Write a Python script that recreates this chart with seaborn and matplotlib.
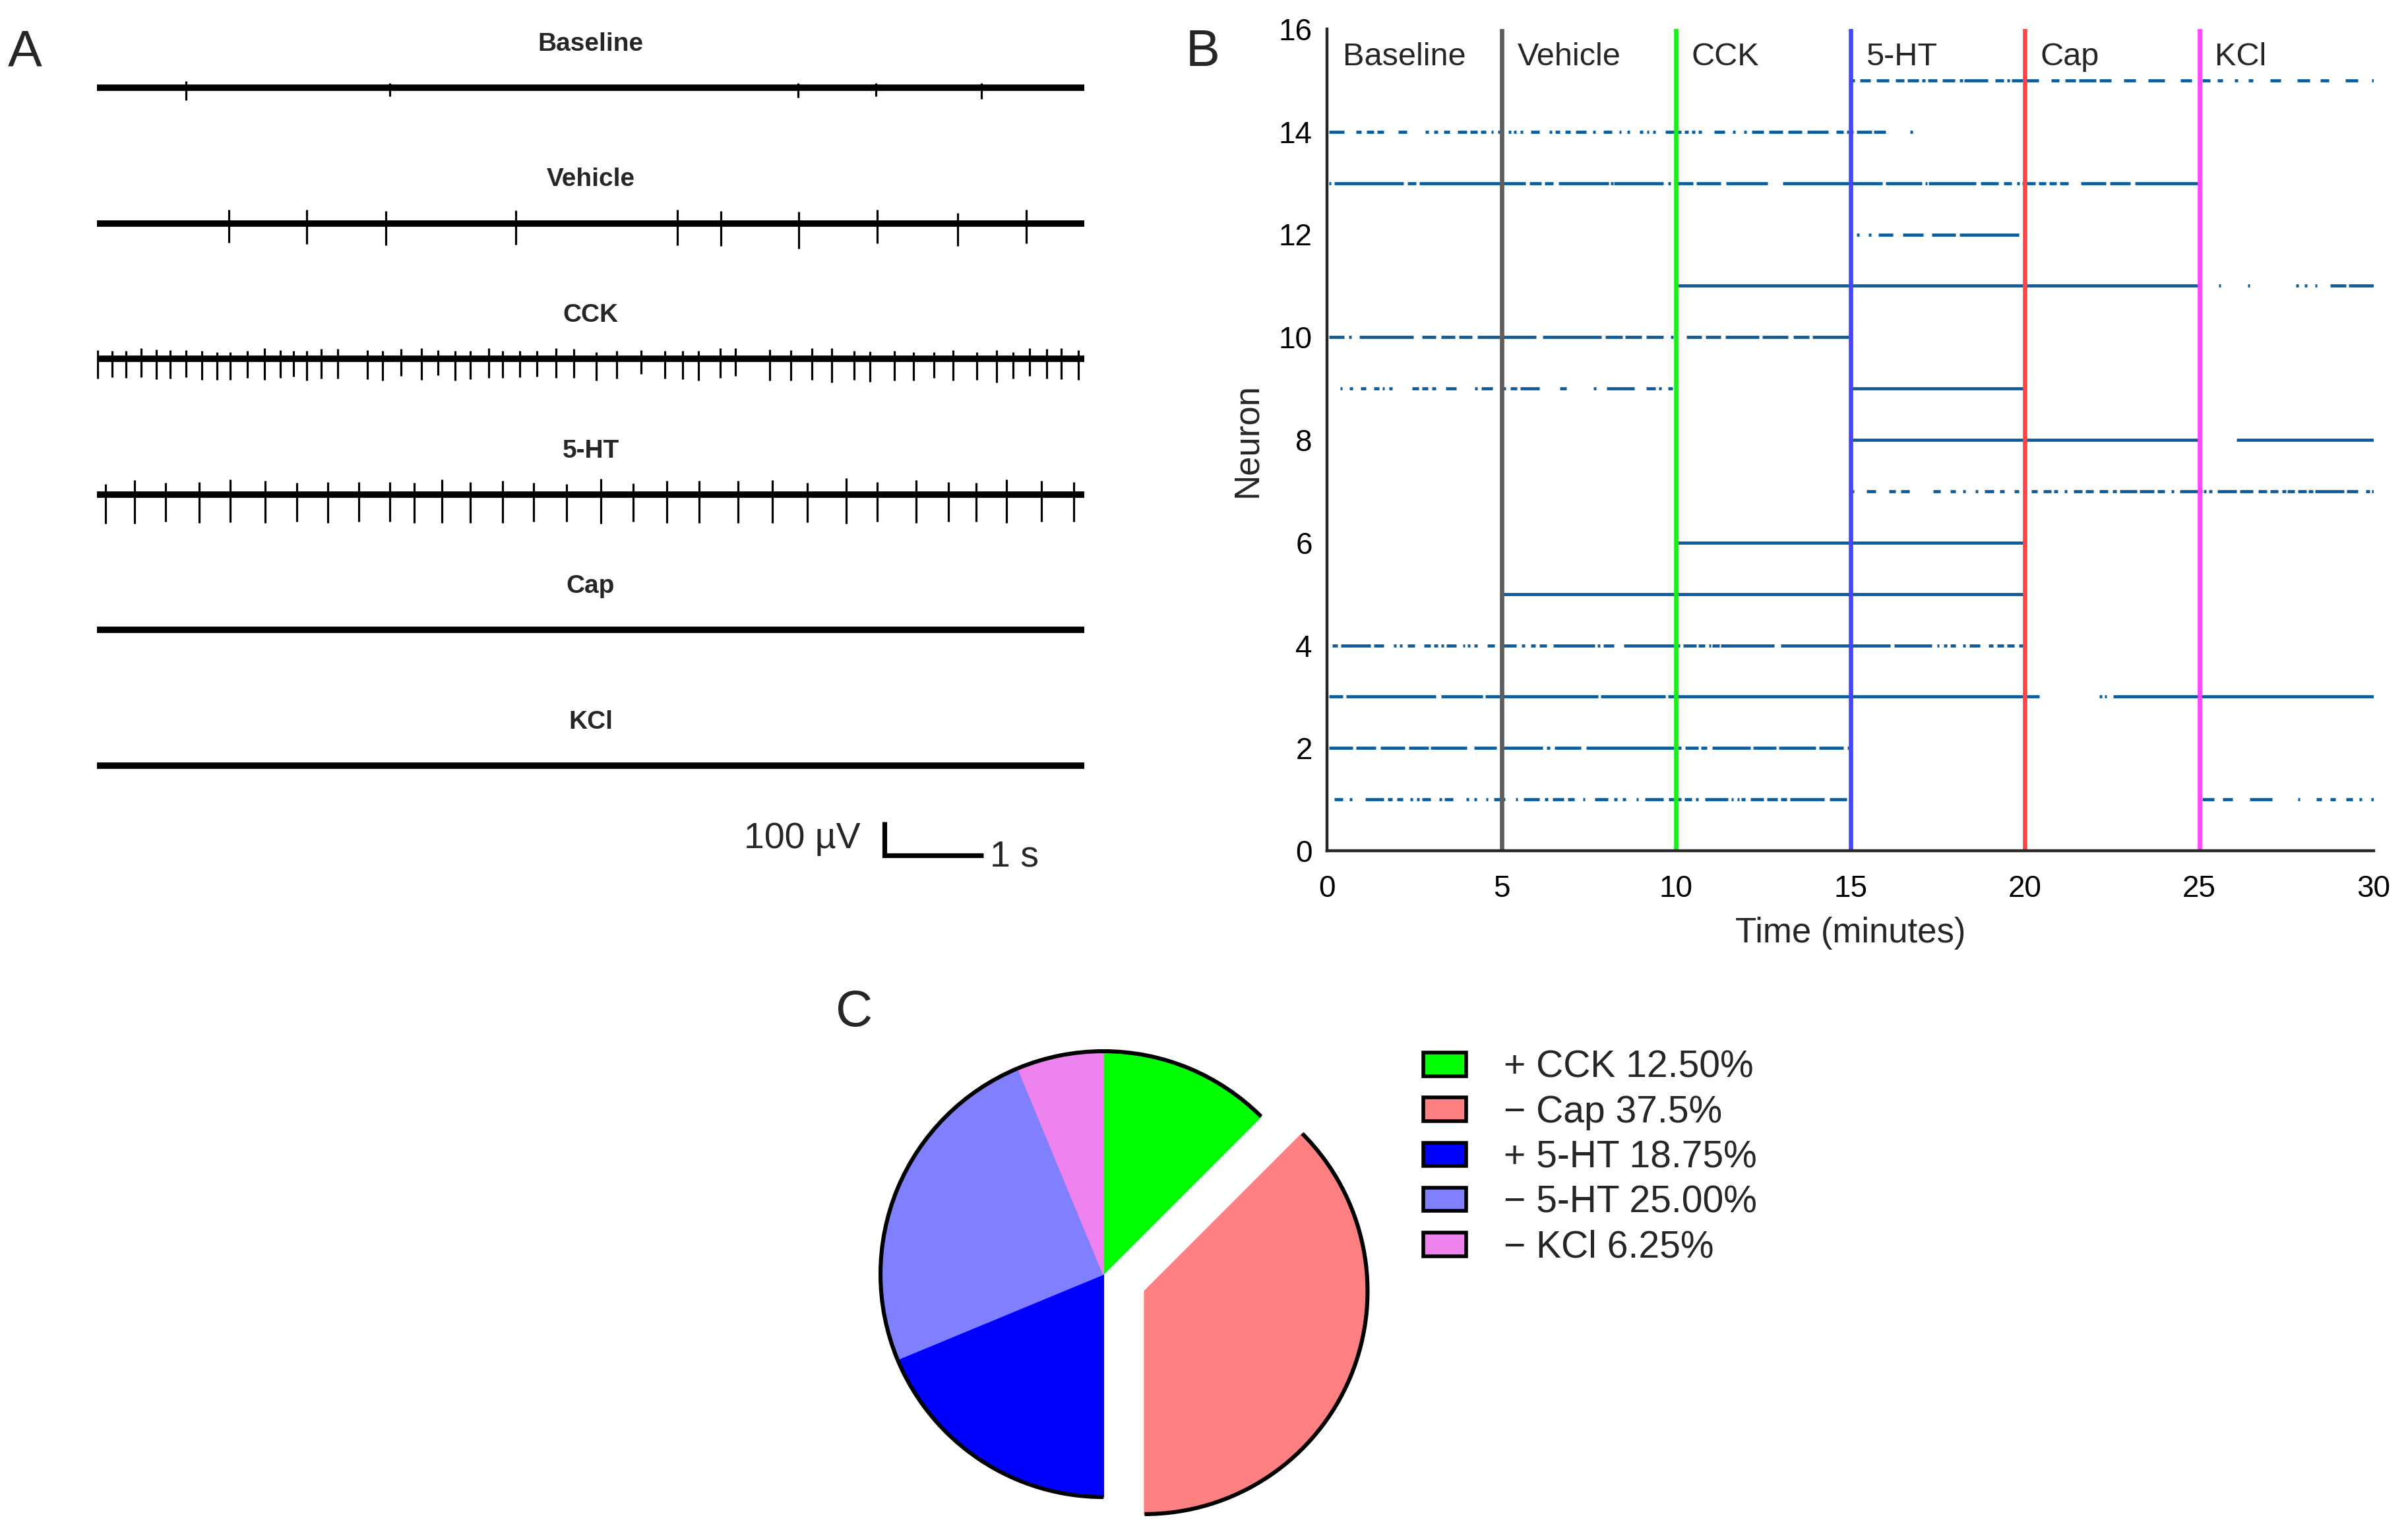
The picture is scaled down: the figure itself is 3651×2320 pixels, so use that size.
import numpy as np
import matplotlib
matplotlib.use("Agg")
import matplotlib.pyplot as plt
from matplotlib.patches import Arc, Patch
import seaborn as sns

# ---------------- Panel A : example traces (10 s each) ----------------
trace_labels = ["Baseline", "Vehicle", "CCK", "5-HT", "Cap", "KCl"]

baseline_spikes = [0.903, 2.966, 7.10, 7.89, 8.955]
baseline_up = [20, 14, 14, 14, 14]
baseline_down = [38, 25, 29, 26, 34]

vehicle_spikes = [1.337, 2.126, 2.923, 4.241, 5.877, 6.32, 7.108, 7.903, 8.716, 9.411]
vehicle_up = [40, 40, 36, 38, 41, 36, 34, 40, 31, 40]
vehicle_down = [57, 61, 65, 63, 65, 68, 76, 60, 68, 60]

cck_spikes = [0.005, 0.154, 0.293, 0.449, 0.600, 0.740, 0.900, 1.060, 1.215, 1.352,
              1.524, 1.700, 1.860, 1.993, 2.122, 2.272, 2.440, 2.738, 2.890, 3.080,
              3.285, 3.456, 3.624, 3.780, 3.968, 4.110, 4.282, 4.454, 4.652, 4.830,
              5.060, 5.266, 5.508, 5.751, 5.929, 6.091, 6.314, 6.466, 6.813, 7.030,
              7.240, 7.440, 7.667, 7.830, 8.078, 8.273, 8.476, 8.674, 8.913, 9.110,
              9.279, 9.447, 9.619, 9.764, 9.939]
cck_up = [26, 24, 24, 31, 28, 26, 26, 23, 20, 21, 23, 31, 26, 23, 24, 29, 29, 26, 24, 29,
          31, 26, 24, 23, 31, 24, 24, 24, 32, 29,
          21, 24, 26, 24, 23, 24, 31, 31, 28, 25, 31, 31, 23, 22, 23, 20, 21, 26, 21, 25,
          20, 31, 29, 31, 25]
cck_down = [59, 54, 57, 54, 61, 59, 54, 62, 63, 63, 57, 63, 56, 52, 65, 59, 59, 61, 65, 50,
            63, 49, 65, 61, 57, 57, 54, 52, 56, 56,
            65, 59, 44, 59, 61, 65, 56, 50, 64, 65, 63, 70, 63, 69, 64, 65, 56, 65, 63, 71,
            59, 51, 59, 61, 63]

ht_spikes = [0.084, 0.381, 0.693, 1.033, 1.351, 1.706, 2.025, 2.336, 2.655, 2.966,
             3.212, 3.495, 3.778, 4.110, 4.422, 4.755, 5.102, 5.428, 5.769, 6.102,
             6.493, 6.841, 7.195, 7.586, 7.905, 8.296, 8.622, 8.905, 9.215, 9.563, 9.896]
ht_up = [31, 42, 34, 37, 45, 40, 34, 37, 36, 36, 34, 44, 37, 40, 34, 31, 47, 33, 40, 40,
         40, 42, 35, 48, 37, 42, 37, 34, 45, 40, 36]
ht_down = [87, 87, 80, 84, 82, 84, 80, 85, 80, 80, 84, 85, 84, 84, 80, 80, 87, 80, 84, 84,
           85, 84, 82, 87, 80, 84, 80, 80, 84, 80, 80]

cap_spikes, cap_up, cap_down = [], [], []
kcl_spikes, kcl_up, kcl_down = [], [], []

# ---------------- Panel B : raster, intervals of firing (minutes) ----------------
epoch_names = ["Baseline", "Vehicle", "CCK", "5-HT", "Cap", "KCl"]
epoch_starts = [0, 5, 10, 15, 20, 25]
epoch_colors = ["#5E5E5E", "#1EEB1E", "#4646FF", "#FF4646", "#FF46FF"]

n1 = [(0.2, 0.45), (0.64, 0.69), (1.09, 1.63), (1.73, 1.88), (2.01, 2.18), (2.38, 2.45),
      (2.57, 2.64), (2.72, 2.97), (3.22, 3.27), (3.37, 3.61), (3.99, 4.06), (4.21, 4.29),
      (4.55, 4.6), (4.78, 5.1), (5.4, 5.45), (5.64, 6.09), (6.24, 6.34), (6.47, 6.78),
      (6.9, 7.08), (7.33, 7.4), (7.67, 8.05), (8.22, 8.32), (8.47, 8.56), (8.86, 8.91),
      (9.11, 9.65), (9.8, 10.15), (10.25, 10.45), (10.56, 10.64), (10.84, 11.49),
      (11.58, 11.63), (11.75, 11.78), (11.88, 11.98), (12.13, 12.52), (12.6, 12.92),
      (13.0, 13.17), (13.27, 14.26), (14.41, 14.9),
      (25.08, 25.42), (25.67, 25.96), (26.45, 27.09), (27.82, 27.87), (28.36, 28.5),
      (28.75, 28.9), (29.2, 29.39), (29.59, 29.64), (29.93, 29.98)]
n2 = [(0.05, 0.74), (0.84, 1.39), (1.53, 2.23), (2.35, 2.92), (2.97, 4.01), (4.21, 4.85),
      (5.0, 6.19), (6.29, 6.39), (6.53, 7.28), (7.43, 10.0), (10.05, 10.15), (10.27, 10.64),
      (10.72, 10.89), (11.04, 12.13), (12.21, 12.87), (12.95, 14.01), (14.11, 14.8),
      (14.92, 14.97)]
n3 = [(0.05, 0.45), (0.54, 3.12), (3.27, 4.46), (4.53, 7.77), (7.85, 9.7), (9.77, 20.42),
      (22.14, 22.2), (22.28, 22.33), (22.53, 30.0)]
n4 = [(0.15, 0.3), (0.4, 1.24), (1.34, 1.63), (1.91, 1.95), (2.08, 2.11), (2.31, 2.52),
      (2.77, 2.97), (3.07, 3.17), (3.27, 3.32), (3.42, 3.71), (3.89, 3.93), (4.03, 4.07),
      (4.21, 4.31), (4.6, 4.8), (4.95, 5.42), (5.57, 5.67), (5.84, 5.97), (6.09, 6.29),
      (6.49, 7.67), (7.75, 7.82), (7.92, 8.22), (8.51, 10.0), (10.05, 10.1), (10.2, 10.59),
      (10.64, 10.84), (10.94, 10.99), (11.04, 11.24), (11.29, 12.82), (13.01, 16.15),
      (16.25, 17.33), (17.48, 17.53), (17.67, 17.77), (17.87, 18.02), (18.22, 18.26),
      (18.41, 18.71), (18.96, 19.1), (19.2, 19.39), (19.49, 19.69), (19.83, 20.0)]
n5 = [(5.0, 20.0)]
n6 = [(10.05, 20.0)]
n7 = [(15.03, 15.08), (15.47, 15.72), (16.11, 16.3), (16.45, 16.7), (17.38, 17.58),
      (17.87, 18.02), (18.22, 18.29), (18.59, 18.64), (18.85, 19.12), (19.29, 19.41),
      (19.69, 19.83), (20.18, 20.35), (20.52, 20.76), (20.84, 20.94), (21.14, 21.19),
      (21.4, 21.65), (21.73, 21.96), (22.14, 22.38), (22.51, 22.63), (22.73, 23.22),
      (23.29, 23.71), (23.8, 24.0), (24.2, 24.25), (24.44, 25.08), (25.13, 25.18),
      (25.27, 25.37), (25.52, 26.06), (26.16, 26.55), (26.7, 26.94), (27.04, 27.25),
      (27.38, 27.48), (27.53, 27.73), (27.82, 28.07), (28.12, 28.26), (28.31, 29.15),
      (29.22, 29.54), (29.78, 29.88), (29.95, 30.0)]
n8 = [(15.0, 24.98), (26.06, 30.0)]
n9 = [(0.37, 0.42), (0.64, 0.74), (0.96, 1.12), (1.34, 1.49), (1.58, 1.63), (1.78, 1.88),
      (2.43, 2.62), (2.72, 2.90), (3.0, 3.12), (3.4, 3.71), (4.24, 4.31), (4.43, 4.75),
      (5.05, 5.1), (5.25, 5.45), (5.54, 6.09), (6.68, 6.86), (7.64, 7.7), (8.02, 8.81),
      (9.14, 9.41), (9.51, 9.56), (9.77, 9.9), (15.0, 20.0)]
n10 = [(0.05, 0.5), (0.62, 0.69), (0.92, 2.48), (2.72, 3.12), (3.27, 3.66), (3.79, 4.16),
       (4.31, 4.95), (5.0, 5.99), (6.19, 7.87), (7.97, 8.47), (8.54, 9.01), (9.14, 9.65),
       (9.85, 9.9), (10.3, 10.74), (10.86, 11.29), (11.42, 12.38), (12.48, 13.22),
       (13.37, 13.81), (13.91, 14.95)]
n11 = [(10.05, 24.98), (25.55, 25.6), (26.38, 26.43), (27.77, 27.82), (28.02, 28.07),
       (28.31, 28.36), (28.75, 29.2), (29.29, 30.0)]
n12 = [(15.18, 15.23), (15.52, 15.57), (15.81, 16.21), (16.5, 17.09), (17.33, 18.02),
       (18.12, 19.83)]
n13 = [(0.05, 0.09), (0.2, 2.2), (2.3, 2.55), (2.65, 5.69), (5.81, 6.14), (6.24, 6.49),
       (6.63, 8.07), (8.13, 8.17), (8.22, 9.65), (9.78, 9.82), (9.95, 10.5), (10.59, 11.29),
       (11.44, 12.62), (13.07, 15.91), (16.01, 17.06), (17.14, 17.19), (17.24, 18.61),
       (18.73, 19.25), (19.39, 19.62), (19.78, 19.83), (19.93, 20.3), (20.4, 20.6),
       (20.7, 20.9), (21.0, 21.25), (21.6, 22.33), (22.43, 23.02), (23.15, 24.98)]
n14 = [(0.05, 0.5), (0.84, 0.99), (1.14, 1.34), (1.44, 1.63), (2.05, 2.28), (2.82, 2.92),
       (3.07, 3.17), (3.34, 3.51), (3.74, 4.01), (4.11, 4.31), (4.41, 4.55), (4.70, 4.75),
       (4.90, 4.95), (5.20, 5.25), (5.35, 5.40), (5.54, 5.59), (5.84, 6.09), (6.37, 6.45),
       (6.55, 6.68), (6.83, 6.98), (7.13, 7.43), (7.62, 7.67), (7.92, 8.17), (8.37, 8.42),
       (8.61, 8.66), (8.96, 9.06), (9.16, 9.21), (9.34, 9.41), (9.70, 10.15), (10.25, 10.35),
       (10.45, 10.55), (10.65, 10.74), (11.09, 11.39), (11.63, 11.68), (11.95, 12.03),
       (12.18, 12.52), (12.67, 13.07), (13.22, 13.61), (13.76, 14.36), (14.60, 14.80),
       (14.90, 15.08), (15.18, 15.62), (15.67, 16.01), (16.71, 16.76)]
n15 = [(14.98, 15.13), (15.27, 15.57), (15.75, 16.11), (16.30, 16.55), (16.63, 16.96),
       (17.06, 17.14), (17.22, 17.48), (17.63, 18.00), (18.12, 18.22), (18.26, 18.95),
       (19.15, 19.39), (19.49, 19.54), (19.62, 20.39), (20.75, 20.98), (21.16, 21.45),
       (21.55, 22.04), (22.14, 22.48), (22.84, 23.17), (23.54, 24.00), (24.47, 24.78),
       (25.08, 25.32), (25.52, 25.67), (26.01, 26.11), (26.40, 26.55), (27.04, 27.33),
       (27.80, 28.17), (28.46, 28.71), (29.18, 29.54), (29.94, 30.0)]
neuron_rows = [n1, n2, n3, n4, n5, n6, n7, n8, n9, n10, n11, n12, n13, n14, n15]

# ---------------- Panel C : pie ----------------
pie_labels = ["+ CCK 12.50%", "\u2212 Cap 37.5%", "+ 5-HT 18.75%", "\u2212 5-HT 25.00%", "\u2212 KCl 6.25%"]
pie_values = [12.5, 37.5, 18.75, 25.0, 6.25]
pie_colors = ["#00FF00", "#FF8080", "#0000FF", "#8080FF", "#EE82EE"]
pie_explode = [0, 0.2, 0, 0, 0]

# ---------------- figure ----------------
sns.set_theme(style="white")
plt.rcParams["font.family"] = ["Liberation Sans", "DejaVu Sans"]

W, H, DPI = 3651, 2320, 200
fig = plt.figure(figsize=(W / DPI, H / DPI), dpi=DPI)
fig.patch.set_facecolor("white")

# ---- Panel A ----
UV_PER_PX = 1.96
axA = fig.add_axes([147 / W, 1 - 1330 / H, 1497 / W, 1330 / H])
axA.set_xlim(0, 10)
axA.set_ylim(133 * UV_PER_PX - 1330 * UV_PER_PX, 133 * UV_PER_PX)
axA.axis("off")

traces = [(baseline_spikes, baseline_up, baseline_down),
          (vehicle_spikes, vehicle_up, vehicle_down),
          (cck_spikes, cck_up, cck_down),
          (ht_spikes, ht_up, ht_down),
          (cap_spikes, cap_up, cap_down),
          (kcl_spikes, kcl_up, kcl_down)]
spacing = 403
for i, (name, (sp, up, dn)) in enumerate(zip(trace_labels, traces)):
    off = -spacing * i
    sns.lineplot(x=[0, 10], y=[off, off], ax=axA, color="black", lw=3.5)
    if len(sp):
        axA.vlines(sp, off - np.array(dn), off + np.array(up), color="black", lw=1.15)
    axA.text(5, off + 130, name, ha="center", va="center", fontsize=14, fontweight="bold")

# scale bar
sb_x, sb_y = 7.976, -2281
axA.plot([sb_x, sb_x, sb_x + 1], [sb_y + 100, sb_y, sb_y], color="black", lw=2.6,
         solid_joinstyle="miter", solid_capstyle="butt", clip_on=False)
axA.text(sb_x - 0.246, -2232, "100 \u00b5V", ha="right", va="center", fontsize=20)
axA.text(sb_x + 1.07, -2287, "1 s", ha="left", va="center", fontsize=20)

# ---- Panel B ----
axB = fig.add_axes([2012 / W, 1 - 1290 / H, 1587 / W, 1246 / H])
axB.set_xlim(0, 30)
axB.set_ylim(0, 16)
raster_color = "#0A5C9E"
for k, row in enumerate(neuron_rows, start=1):
    starts = np.array([a for a, b in row])
    ends = np.array([max(b, a + 0.07) for a, b in row])
    axB.hlines(np.full(len(row), k), starts, ends, color=raster_color, lw=1.7,
               capstyle="butt")
for x0, c in zip(epoch_starts[1:], epoch_colors):
    axB.axvline(x0, 0, 1, color=c, lw=2.4)
for x0, name in zip(epoch_starts, epoch_names):
    axB.text(x0 + 0.45, 15.46, name, ha="left", va="center", fontsize=17.5)
axB.set_xticks(range(0, 31, 5))
axB.set_yticks(range(0, 17, 2))
spine_c = "#262626"
for s in ["top", "right"]:
    axB.spines[s].set_visible(False)
for s in ["left", "bottom"]:
    axB.spines[s].set_color(spine_c)
    axB.spines[s].set_linewidth(1.6)
axB.tick_params(direction="in", length=5.5, width=1.6, color=spine_c,
                labelsize=16.5, labelcolor="black")
axB.tick_params(axis="x", pad=13)
axB.tick_params(axis="y", pad=8)
axB.set_xlabel("Time (minutes)", fontsize=19, labelpad=7)
axB.set_ylabel("Neuron", fontsize=19, labelpad=8)
axB.set_facecolor("white")

# ---- Panel C ----
R_PX = 338
L = 1.2
S = 2 * L * R_PX
cx, cy = 1673, 1932
axC = fig.add_axes([(cx - S / 2) / W, 1 - (cy + S / 2) / H, S / W, S / H])
wedges, _ = axC.pie(pie_values, colors=pie_colors, startangle=90, counterclock=False,
                    explode=pie_explode, wedgeprops=dict(linewidth=0))
for w in wedges:
    w.set_edgecolor(w.get_facecolor())
    w.set_linewidth(0.8)
    w.set_clip_on(False)
    arc = Arc(w.center, 2 * w.r, 2 * w.r, theta1=w.theta1, theta2=w.theta2,
              color="black", lw=2.2, clip_on=False)
    axC.add_patch(arc)
axC.set_xlim(-L, L)
axC.set_ylim(-L, L)
axC.axis("off")

handles = [Patch(facecolor=c, edgecolor="black", lw=2.0) for c in pie_colors]
fig.legend(handles, pie_labels, loc="upper left",
           bbox_to_anchor=(2158 / W, 1 - 1592 / H), frameon=False, fontsize=20.5,
           handlelength=1.14, handleheight=0.58, handletextpad=1.0, labelspacing=0.25,
           borderpad=0, borderaxespad=0)

# ---- panel letters ----
fig.text(12 / W, 1 - 43 / H, "A", fontsize=28, va="top", ha="left")
fig.text(1798 / W, 1 - 43 / H, "B", fontsize=28, va="top", ha="left")
fig.text(1267 / W, 1 - 1499 / H, "C", fontsize=28, va="top", ha="left")

fig.savefig("out.png", dpi=DPI, facecolor="white")
